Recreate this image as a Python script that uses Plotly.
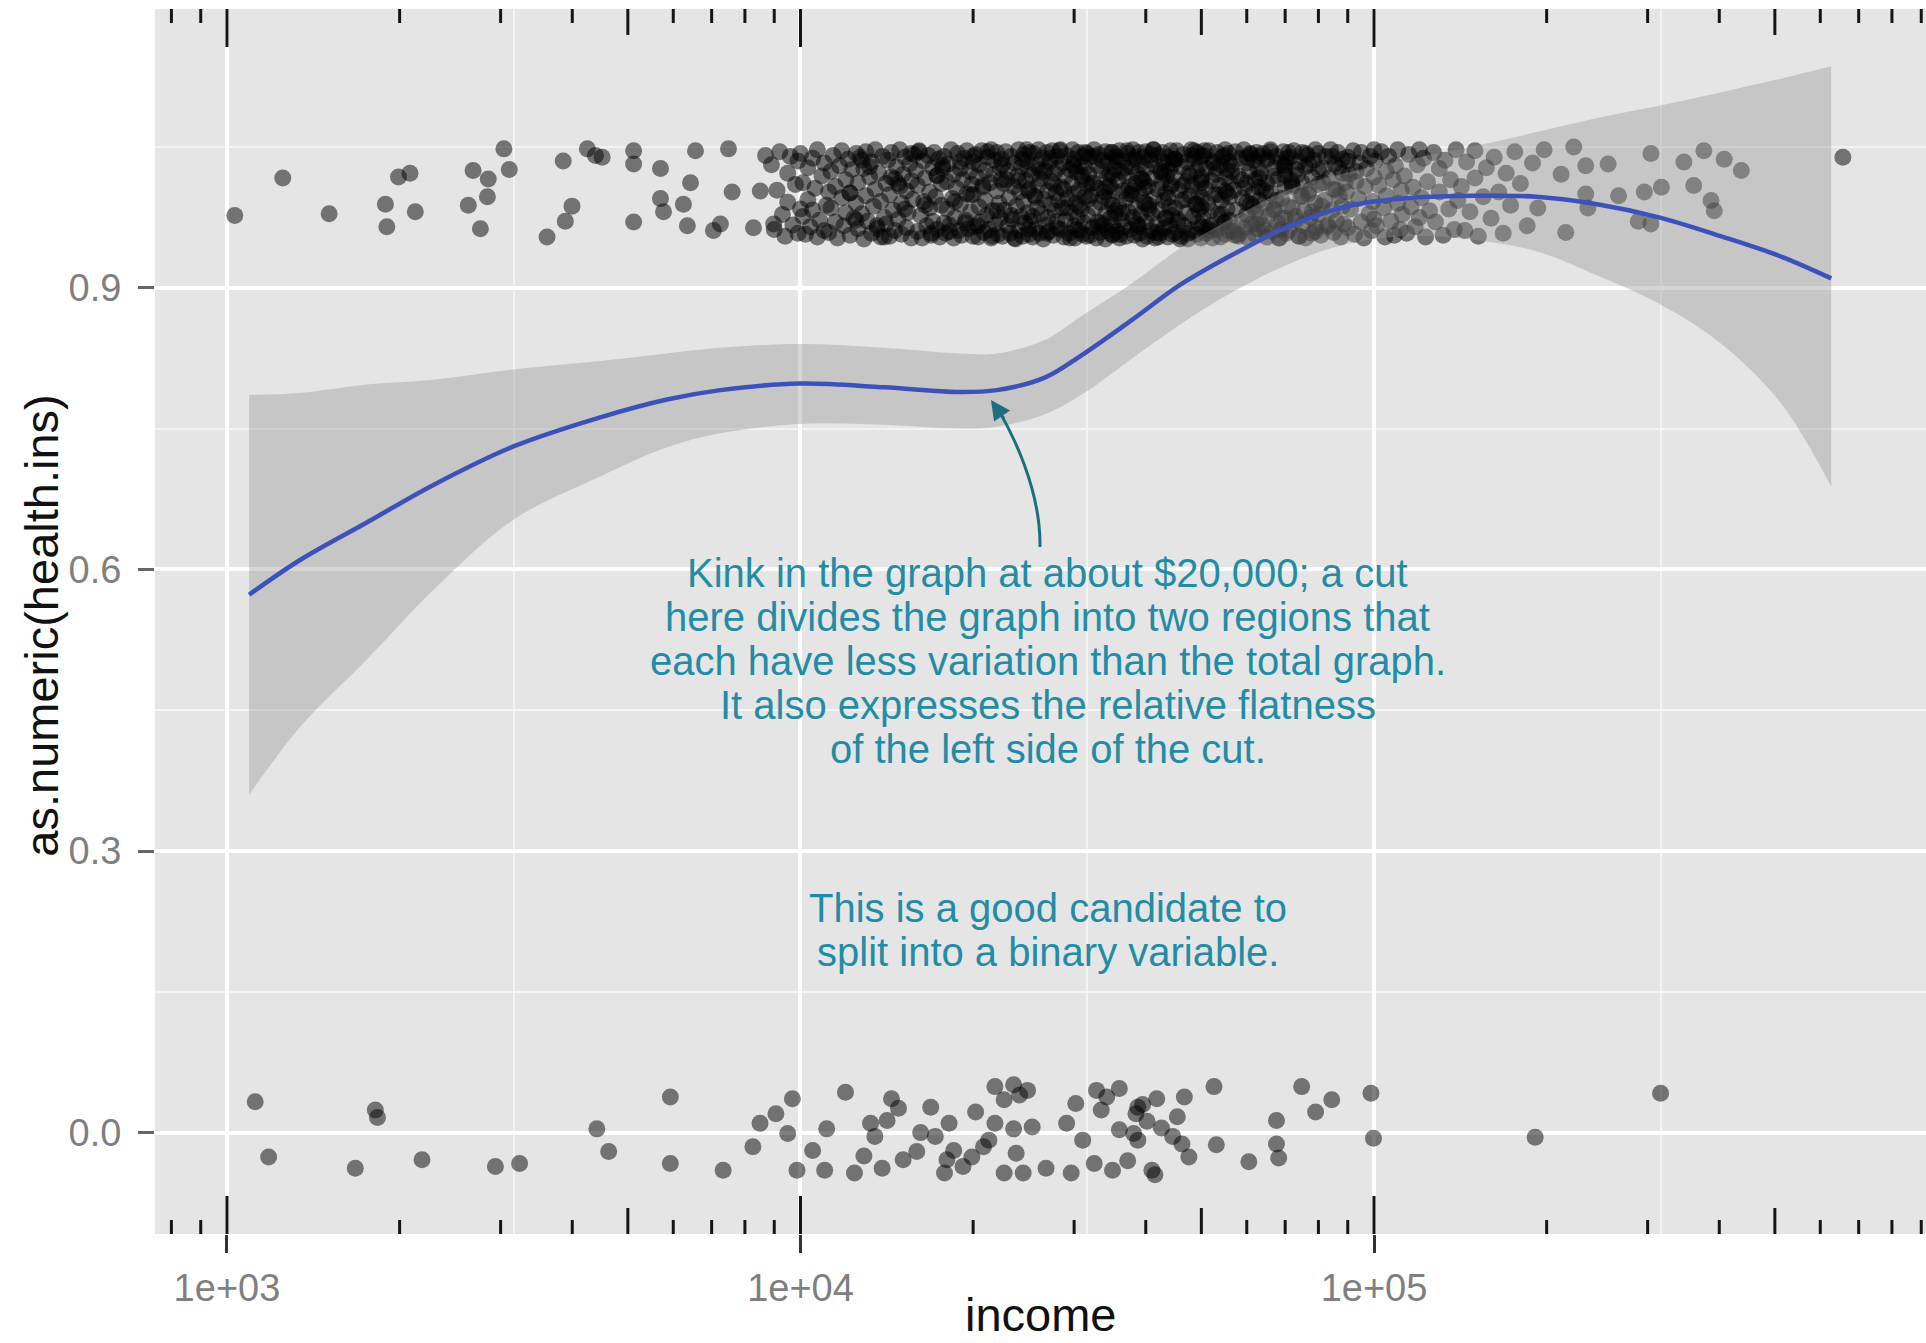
import plotly.graph_objects as go

FONT = "Liberation Sans, Arial, Helvetica, sans-serif"

# ---------------- data ----------------
# health.ins == TRUE, jittered around 1 : sparse low-income points
ins_low_income = [1032, 1251, 1507, 1889, 1900, 1991, 2085, 2130, 2635, 2686, 2766, 2845, 2855,
                  3040, 3106, 3615, 3857, 3890, 3996, 4250, 4390, 4510, 5118, 5118, 5118, 5700,
                  5700, 5770, 6250, 6350, 6430, 6560, 7050, 7250, 7490, 7600, 8280, 8510, 8690, 8980]
ins_low_y = [0.977, 1.017, 0.979, 0.989, 0.965, 1.018, 1.022, 0.981, 0.988, 1.025, 0.963, 0.997, 1.016,
             1.048, 1.026, 0.954, 1.035, 0.971, 0.987, 1.048, 1.041, 1.039, 1.046, 1.032, 0.970, 1.027,
             0.995, 0.981, 0.989, 0.966, 1.012, 1.046, 0.961, 0.968, 1.048, 1.002, 0.964, 1.003, 1.041, 0.968]

# health.ins == TRUE : dense band, income in $1000s, jittered y in thousandths
ins_mid_income_k = [
    8.9, 9.0, 9.1, 9.2, 9.3, 9.4, 9.5, 9.5, 9.6, 9.7, 9.8, 9.9, 9.9, 10.0,
    10.0, 10.1, 10.1, 10.2, 10.3, 10.3, 10.4, 10.5, 10.5, 10.6, 10.7, 10.7, 10.8, 10.9, 11.0, 11.0, 11.1, 11.2,
    11.2, 11.3, 11.3, 11.4, 11.5, 11.5, 11.6, 11.7, 11.8, 11.8, 11.9, 12.0, 12.0, 12.1, 12.2, 12.2, 12.3, 12.4, 12.5, 12.5,
    12.6, 12.6, 12.7, 12.8, 12.9, 12.9, 13.0, 13.0, 13.1, 13.2, 13.3, 13.3, 13.4, 13.5, 13.5, 13.6, 13.7, 13.8, 13.8, 13.9, 14.0, 14.1,
    14.1, 14.2, 14.3, 14.3, 14.4, 14.5, 14.6, 14.6, 14.7, 14.8, 14.9, 14.9, 15.0, 15.0, 15.1, 15.2, 15.3, 15.3, 15.4, 15.5, 15.6, 15.6, 15.7, 15.8,
    15.9, 16.0, 16.0, 16.1, 16.2, 16.3, 16.4, 16.4, 16.5, 16.6, 16.7, 16.8, 16.8, 16.9, 17.0, 17.0, 17.1, 17.2, 17.3, 17.3, 17.4, 17.5, 17.6, 17.6, 17.7, 17.8,
    17.8, 17.9, 18.0, 18.0, 18.1, 18.2, 18.3, 18.4, 18.5, 18.5, 18.6, 18.7, 18.8, 18.9, 19.0, 19.0, 19.1, 19.2, 19.3, 19.4, 19.5, 19.5, 19.6, 19.7, 19.8, 19.9, 20.0, 20.0,
    20.0, 20.1, 20.2, 20.3, 20.4, 20.5, 20.5, 20.6, 20.7, 20.8, 20.9, 21.0, 21.0, 21.1, 21.2, 21.3, 21.4, 21.5, 21.5, 21.6, 21.7, 21.8, 21.9, 22.0, 22.0, 22.1, 22.2, 22.3, 22.3, 22.4,
    22.4, 22.5, 22.6, 22.7, 22.8, 23.0, 23.0, 23.1, 23.2, 23.3, 23.4, 23.5, 23.6, 23.7, 23.8, 23.9, 24.0, 24.0, 24.1, 24.2, 24.3, 24.4, 24.5, 24.5, 24.6, 24.7, 24.8, 24.9, 25.0, 25.0, 25.0, 25.1,
    25.2, 25.3, 25.4, 25.5, 25.6, 25.7, 25.8, 25.9, 26.0, 26.0, 26.1, 26.2, 26.3, 26.4, 26.5, 26.6, 26.7, 26.8, 26.9, 27.0, 27.0, 27.1, 27.2, 27.3, 27.4, 27.5, 27.6, 27.7, 27.8, 27.9, 28.0, 28.0, 28.1, 28.2,
    28.3, 28.4, 28.5, 28.6, 28.7, 28.8, 29.0, 29.0, 29.1, 29.2, 29.4, 29.5, 29.6, 29.7, 29.8, 30.0, 30.0, 30.0, 30.1, 30.2, 30.3, 30.4, 30.5, 30.6, 30.7, 30.8, 30.9, 31.0, 31.0, 31.1, 31.2, 31.3, 31.4, 31.5, 31.6, 31.6,
    31.7, 31.8, 32.0, 32.0, 32.1, 32.3, 32.4, 32.5, 32.6, 32.8, 32.9, 33.0, 33.0, 33.1, 33.3, 33.4, 33.5, 33.6, 33.7, 33.9, 34.0, 34.0, 34.1, 34.2, 34.3, 34.4, 34.5, 34.6, 34.7, 34.8, 34.9, 35.0, 35.0, 35.0, 35.1, 35.2, 35.3, 35.4,
    35.5, 35.6, 35.8, 35.9, 36.0, 36.0, 36.2, 36.3, 36.5, 36.6, 36.7, 36.9, 37.0, 37.0, 37.2, 37.3, 37.4, 37.6, 37.7, 37.8, 38.0, 38.0, 38.1, 38.2, 38.4, 38.5, 38.6, 38.7, 38.9, 39.0, 39.0, 39.1, 39.2, 39.4, 39.5, 39.6, 39.7, 39.8,
    40.0, 40.0, 40.0, 40.2, 40.3, 40.5, 40.7, 40.8, 41.0, 41.0, 41.2, 41.4, 41.5, 41.6, 41.8, 42.0, 42.0, 42.1, 42.3, 42.5, 42.6, 42.8, 43.0, 43.0, 43.1, 43.3, 43.4, 43.5, 43.7, 43.8, 44.0, 44.0, 44.1, 44.2, 44.3, 44.4, 44.5, 44.6,
    44.8, 45.0, 45.0, 45.0, 45.3, 45.5, 45.7, 46.0, 46.0, 46.2, 46.5, 46.7, 47.0, 47.0, 47.2, 47.4, 47.6, 47.8, 48.0, 48.0, 48.2, 48.4, 48.6, 48.8, 49.0, 49.0, 49.2, 49.4, 49.5, 49.7, 49.9, 50.0, 50.0, 50.0, 50.0, 50.1,
    50.3, 50.5, 50.8, 51.0, 51.0, 51.3, 51.5, 51.8, 52.0, 52.0, 52.3, 52.5, 52.8, 53.0, 53.0, 53.3, 53.5, 53.8, 54.0, 54.0, 54.2, 54.5, 54.7, 55.0, 55.0, 55.0, 55.2, 55.4, 55.5, 55.7, 55.8, 56.0, 56.0, 56.2,
    56.4, 56.8, 57.0, 57.3, 57.6, 58.0, 58.0, 58.4, 58.8, 59.0, 59.3, 59.6, 60.0, 60.0, 60.0, 60.3, 60.6, 60.9, 61.0, 61.2, 61.5, 61.8, 62.0, 62.0, 62.2, 62.4, 62.6, 62.8, 63.0, 63.0, 63.0, 63.1,
    63.5, 64.0, 64.0, 64.5, 65.0, 65.0, 65.0, 65.5, 66.0, 66.0, 66.5, 67.0, 67.0, 67.5, 68.0, 68.0, 68.5, 69.0, 69.0, 69.5, 70.0, 70.0, 70.0, 70.3, 70.5, 70.7, 64.8, 66.8, 68.8, 69.8,
    71.0, 71.5, 72.0, 72.0, 72.5, 73.0, 73.5, 74.0, 74.0, 74.5, 75.0, 75.0, 75.0, 75.5, 76.0, 76.0, 76.5, 77.0, 77.5, 78.0, 78.0, 78.5, 79.0, 79.0, 79.3, 73.2, 76.8, 71.8,
    80.0, 80.0, 80.0, 80.8, 81.5, 82.0, 82.5, 83.0, 83.5, 84.0, 84.5, 85.0, 85.0, 85.5, 86.0, 86.5, 87.0, 87.5, 88.0, 88.0, 88.5, 89.0, 81.0, 86.8,
    89.5, 90.0, 90.0, 90.5, 91.0, 92.0, 92.5, 93.0, 94.0, 94.5, 95.0, 95.0, 96.0, 96.5, 97.0, 98.0, 98.5, 99.0, 99.5, 100.0, 100.0, 100.0,
    100.5, 101, 102, 103, 104, 104.5, 105, 105, 106, 107, 108, 108.5, 109, 110, 110, 111, 111.5, 112,
    113, 114, 115, 116, 117, 118, 119, 120, 120, 121, 122, 123, 124, 125,
    127, 128, 130, 130, 132, 133, 135, 136, 138, 139, 140,
    142, 144, 145, 147, 150, 150, 152, 155, 157,
    160, 162, 165, 168, 170, 173, 176,
    180, 185, 189, 193, 198,
]
ins_mid_y_milli = [
    1031, 962, 1004, 1045, 978, 955, 1022, 991, 1040, 967, 1010, 958, 1035, 984,
    1043, 976, 1012, 957, 1028, 994, 965, 1038, 983, 1006, 954, 1047, 972, 1019, 961, 1033, 988, 1002,
    959, 1024, 985, 1041, 970, 1008, 953, 1030, 996, 1046, 966, 1015, 980, 1037, 956, 1001, 1026, 974, 1043, 990,
    1012, 963, 1039, 979, 1027, 952, 998, 1045, 971, 1018, 958, 1034, 987, 1005, 1047, 966, 1022, 954, 992, 1040, 975, 1011,
    968, 1036, 999, 955, 1044, 983, 1016, 961, 1029, 973, 1008, 1047, 957, 990, 1021, 1039, 964, 1003, 980, 1032, 953, 1014, 994, 1042,
    1025, 960, 1009, 1046, 977, 953, 1035, 992, 1017, 966, 1041, 985, 1002, 956, 1028, 971, 1044, 997, 962, 1019, 1037, 954, 988, 1011, 1030, 969,
    1040, 958, 1013, 984, 1032, 967, 1047, 995, 953, 1021, 975, 1006, 1043, 961, 989, 1027, 956, 1015, 1038, 972, 1000, 1046, 963, 1024, 981, 1010, 955, 1034,
    999, 965, 1042, 1018, 954, 986, 1031, 970, 1046, 1007, 959, 993, 1025, 977, 1039, 962, 1012, 1047, 953, 982, 1021, 1036, 968, 1003, 1044, 957, 990, 1028, 974, 1015,
    1037, 955, 1011, 983, 1045, 966, 1024, 996, 958, 1040, 973, 1008, 1033, 952, 987, 1019, 1047, 961, 1002, 976, 1029, 955, 1042, 992, 969, 1014, 1035, 980, 957, 1005, 1026, 1044,
    971, 1020, 954, 1043, 998, 963, 1031, 985, 1009, 1047, 958, 1016, 979, 1038, 952, 994, 1025, 967, 1044, 1003, 975, 960, 1034, 989, 1013, 1046, 956, 1022, 982, 1001, 1040, 964, 1027, 993,
    1046, 962, 1007, 985, 1033, 954, 1019, 972, 1041, 995, 958, 1026, 980, 1011, 1047, 966, 1000, 1037, 953, 990, 1023, 975, 1044, 1004, 961, 1030, 984, 1015, 957, 1040, 969, 997, 1028, 955, 1010, 1043,
    977, 1021, 956, 1039, 998, 964, 1012, 1047, 985, 953, 1030, 970, 1006, 1042, 959, 991, 1025, 1036, 967, 1002, 952, 1045, 980, 1017, 961, 1033, 994, 1009, 974, 1044, 957, 988, 1020, 1038, 966, 1003, 1027, 982,
    1040, 960, 1014, 987, 1046, 953, 1024, 972, 1003, 1035, 965, 994, 1019, 955, 1043, 981, 1008, 962, 1029, 999, 1047, 975, 1037, 956, 1011, 985, 1022, 967, 1044, 1000, 958, 1031, 978, 1016, 952, 1039, 991, 1006,
    970, 1027, 1045, 955, 1008, 988, 1036, 961, 1017, 979, 1047, 996, 953, 1030, 968, 1005, 1041, 983, 958, 1023, 1012, 1044, 963, 993, 1034, 974, 1001, 1019, 954, 1039, 986, 1026, 966, 1046, 1010, 977, 957, 1032,
    1018, 959, 1037, 985, 1046, 971, 1004, 955, 1029, 993, 1042, 966, 1013, 980, 1034, 952, 1022, 998, 1047, 962, 1009, 976, 1038, 989, 957, 1025, 1044, 969, 1002, 1031, 953, 986, 1015, 1040, 965, 996,
    975, 1041, 1006, 958, 1027, 990, 1046, 966, 1014, 982, 953, 1035, 999, 1021, 962, 1044, 978, 1009, 954, 1031, 993, 1039, 969, 1003, 1047, 957, 1017, 984, 1026, 961, 1043, 997, 972, 1012,
    1030, 960, 1004, 1045, 983, 1019, 955, 1038, 971, 995, 1047, 964, 1011, 1033, 978, 953, 1024, 989, 1042, 968, 1000, 1036, 957, 1015, 981, 1044, 963, 1027, 993, 1007, 1040, 974,
    1022, 966, 1043, 990, 954, 1012, 1036, 977, 1047, 1001, 960, 1028, 984, 1040, 969, 1016, 953, 1033, 995, 1045, 974, 1008, 1025, 958, 1038, 987, 1003, 1019, 962, 1031,
    961, 1039, 1008, 985, 1046, 972, 1020, 955, 1034, 997, 1044, 967, 1012, 982, 1029, 953, 1041, 1003, 975, 1018, 958, 1036, 990, 1047, 964, 1026, 1000, 1014,
    1043, 978, 1010, 956, 1027, 993, 1040, 965, 1017, 1047, 983, 1005, 959, 1032, 971, 1044, 998, 954, 1022, 1037, 968, 1012, 987, 1028,
    1002, 1039, 964, 1021, 984, 1046, 957, 1013, 995, 1033, 970, 1044, 953, 1008, 1027, 979, 1040, 961, 992, 1018, 1047, 973,
    1035, 966, 1009, 1045, 985, 954, 1024, 998, 1040, 971, 1015, 956, 1030, 990, 1047, 962, 1004, 978,
    1019, 958, 1042, 986, 1007, 965, 1031, 1047, 975, 996, 1038, 954, 1013, 982,
    1044, 970, 1002, 1027, 956, 1036, 984, 1015, 962, 1047, 993,
    1008, 961, 1034, 981, 1046, 1017, 955, 997, 1028,
    974, 1039, 1002, 958, 1022, 988, 1045,
    1011, 966, 1033, 985, 1047,
]
# further overlapping points inside the darkest part of the band ($1000s, thousandths)
ins_core_income_k = [
    12.2, 12.8, 13.6, 14.4, 15.2, 16.1, 16.9, 17.7, 18.6, 19.4, 20.0, 20.8, 21.6, 22.5, 23.3, 24.0, 24.8, 25.0, 25.7, 26.5,
    27.3, 28.0, 28.8, 29.5, 30.0, 30.6, 31.4, 32.2, 33.0, 33.8, 34.6, 35.0, 35.7, 36.4, 37.1, 37.9, 38.6, 39.3, 40.0, 40.9,
    41.7, 42.5, 43.4, 44.2, 45.0, 45.9, 46.8, 47.7, 48.6, 49.5, 50.0, 51.2, 52.4, 53.6, 54.8, 55.0, 56.5, 58.0, 59.5, 60.0,
    61.5, 63.0, 64.5, 66.0, 67.5, 69.0, 70.0, 72.0, 74.0, 76.0, 78.0, 80.0, 83.0, 86.0, 90.0,
    12.5, 13.2, 14.0, 14.8, 15.6, 16.5, 17.3, 18.2, 19.0, 19.8, 20.4, 21.2, 22.0, 22.9, 23.6, 24.4, 25.0, 25.4, 26.1, 26.9,
    27.7, 28.4, 29.1, 29.9, 30.3, 31.0, 31.8, 32.6, 33.4, 34.2, 35.0, 35.3, 36.0, 36.8, 37.5, 38.3, 39.0, 39.7, 40.5, 41.3,
    42.1, 43.0, 43.8, 44.6, 45.5, 46.4, 47.3, 48.2, 49.1, 50.0, 50.6, 51.8, 53.0, 54.2, 55.5, 56.0, 57.2, 58.8, 60.0, 60.8,
    62.2, 63.8, 65.2, 66.8, 68.2, 70.0, 71.0, 73.0, 75.0, 77.0, 79.0, 81.5, 84.5, 88.0, 93.0,
]
ins_core_y_milli = [
    1001, 1036, 963, 1018, 984, 1045, 958, 1027, 992, 969, 1040, 1009, 955, 1031, 977, 1014, 1047, 962, 996, 1023,
    1038, 971, 1005, 953, 1029, 987, 1044, 1011, 965, 997, 1021, 956, 1035, 980, 1046, 1003, 968, 1016, 990, 1042,
    959, 1025, 975, 1008, 1037, 952, 994, 1019, 1046, 983, 1012, 964, 1033, 999, 1041, 970, 1024, 957, 1006, 1039,
    986, 1017, 961, 1045, 993, 974, 1030, 1010, 955, 1043, 981, 1026, 967, 1004, 1035,
    972, 1029, 954, 1011, 1043, 988, 1020, 960, 1034, 999, 966, 1045, 982, 1015, 953, 1037, 1003, 976, 1026, 958,
    1010, 1047, 985, 1032, 962, 1019, 994, 1040, 969, 1007, 1044, 979, 957, 1028, 1000, 1039, 965, 1013, 984, 1047,
    954, 1022, 996, 1036, 973, 1009, 958, 1041, 989, 1018, 1046, 961, 1027, 978, 1001, 1034, 956, 1015, 991, 1043,
    968, 1006, 1038, 983, 953, 1020, 1044, 976, 998, 1031, 960, 1012, 1040, 987, 1024,
]

# health.ins == TRUE : sparse high-income points
ins_high_income = [212000, 216000, 223000, 234000, 234000, 236000, 256000, 267000, 289000, 296000, 304000,
                   304000, 317000, 347000, 361000, 376000, 387000, 392000, 408000, 437000, 657000]
ins_high_y = [1.021, 0.959, 1.050, 1.030, 1.000, 0.985, 1.032, 0.998, 0.971, 1.002, 1.043,
              0.968, 1.007, 1.034, 1.009, 1.046, 0.993, 0.982, 1.037, 1.025, 1.039]

# health.ins == FALSE, jittered around 0
unins_income = [1120, 1182, 1674, 1814, 1830, 2188, 2938, 3238, 4415, 4630, 5930, 5930, 7330, 8260, 8500,
                9060, 9500, 9680, 9860, 10500, 11110, 11020, 11980, 12420, 12900, 13250, 13480, 13880, 14410,
                14820, 14160, 15100, 15950, 16200, 16870, 17180, 17830, 18160, 18500, 18000, 19200, 19900,
                20200, 20850, 21300, 21830, 23530, 24880, 22650, 21830, 23530, 25350, 23770, 22650, 24450,
                24100, 26800, 29650, 29110, 30200, 31050, 32830, 32520, 33450, 34200, 35000, 35970, 35970,
                37200, 38740, 38450, 39500, 40200, 41800, 41000, 41500, 38100, 38740, 42600, 45400, 44560,
                46700, 46250, 47560, 52600, 53100, 60500, 67600, 67600, 68200, 74800, 79100, 84400, 98800,
                99800, 191000, 316000]
unins_y = [0.033, -0.026, -0.038, 0.024, 0.016, -0.029, -0.036, -0.033, 0.004, -0.020, 0.038, -0.033, -0.040,
           -0.015, 0.010, 0.020, -0.001, 0.036, -0.040, -0.019, 0.004, -0.040, 0.043, -0.043, -0.025, 0.010,
           -0.004, -0.038, 0.036, 0.026, 0.013, -0.029, -0.020, 0.000, 0.027, -0.004, -0.043, 0.010, -0.019,
           -0.029, -0.036, -0.026, 0.022, -0.015, -0.008, 0.049, 0.051, 0.045, 0.035, 0.010, 0.004, 0.006,
           -0.022, -0.043, -0.043, 0.040, -0.038, -0.043, 0.010, 0.031, -0.008, 0.045, -0.033, 0.024, 0.038,
           -0.040, 0.047, 0.003, -0.030, 0.027, 0.020, 0.030, 0.012, 0.036, -0.040, -0.045, -0.001, -0.008,
           0.005, 0.017, -0.004, 0.038, -0.012, -0.026, 0.049, -0.013, -0.031, 0.013, -0.012, -0.027, 0.049,
           0.022, 0.035, 0.042, -0.006, -0.005, 0.042]

# loess smooth and its confidence band
smooth_income = [1093, 1341, 1753, 2291, 3160, 4477, 5852, 7250, 10000, 14000, 18850, 22000, 26600, 30900,
                 37700, 45900, 55800, 71400, 91400, 117000, 150000, 192000, 245000, 314000, 402000, 514000, 627000]
smooth_fit = [0.573, 0.610, 0.650, 0.690, 0.731, 0.762, 0.781, 0.791, 0.798, 0.794, 0.789, 0.791, 0.804, 0.828,
              0.865, 0.903, 0.933, 0.966, 0.988, 0.996, 0.998, 0.997, 0.989, 0.975, 0.955, 0.933, 0.910]
smooth_lo = [0.360, 0.432, 0.504, 0.578, 0.653, 0.699, 0.730, 0.745, 0.755, 0.754, 0.750, 0.752, 0.765, 0.786,
             0.824, 0.861, 0.893, 0.926, 0.948, 0.955, 0.951, 0.939, 0.913, 0.883, 0.841, 0.776, 0.688]
smooth_hi = [0.786, 0.788, 0.797, 0.802, 0.813, 0.822, 0.830, 0.836, 0.840, 0.836, 0.830, 0.830, 0.844, 0.870,
             0.904, 0.942, 0.972, 1.005, 1.024, 1.038, 1.051, 1.066, 1.081, 1.094, 1.108, 1.123, 1.136]

x_tick_vals = [1e3, 1e4, 1e5]
x_tick_text = ["1e+03", "1e+04", "1e+05"]
y_tick_vals = [0.0, 0.3, 0.6, 0.9]
y_tick_text = ["0.0", "0.3", "0.6", "0.9"]

note_lines = ["Kink in the graph at about $20,000; a cut",
              "here divides the graph into two regions that",
              "each have less variation than the total graph.",
              "It also expresses the relative flatness",
              "of the left side of the cut."]
note2_lines = ["This is a good candidate to", "split into a binary variable."]

# ---------------- figure ----------------
X_RANGE = [2.8745, 5.9625]
Y_RANGE = [-0.108, 1.197]
PT = dict(size=17, color="rgba(0,0,0,0.5)", line=dict(width=0))


def pairs(xs_k, ys_m):
    n = min(len(xs_k), len(ys_m))
    return [v * 1000 for v in xs_k[:n]], [v / 1000 for v in ys_m[:n]]


mid_x, mid_y = pairs(ins_mid_income_k, ins_mid_y_milli)
core_x, core_y = pairs(ins_core_income_k, ins_core_y_milli)

fig = go.Figure()
fig.add_trace(go.Scatter(x=ins_low_income + mid_x + core_x + ins_high_income,
                         y=ins_low_y + mid_y + core_y + ins_high_y,
                         mode="markers", marker=PT, hoverinfo="skip", showlegend=False))
fig.add_trace(go.Scatter(x=unins_income, y=unins_y, mode="markers", marker=PT,
                         hoverinfo="skip", showlegend=False))
# confidence ribbon
fig.add_trace(go.Scatter(x=smooth_income, y=smooth_lo, mode="lines", line=dict(width=0, shape="spline"),
                         hoverinfo="skip", showlegend=False))
fig.add_trace(go.Scatter(x=smooth_income, y=smooth_hi, mode="lines", line=dict(width=0, shape="spline"),
                         fill="tonexty", fillcolor="rgba(153,153,153,0.4)", hoverinfo="skip", showlegend=False))
# fitted line
fig.add_trace(go.Scatter(x=smooth_income, y=smooth_fit, mode="lines",
                         line=dict(color="rgb(60,82,185)", width=4.5, shape="spline"),
                         hoverinfo="skip", showlegend=False))

# log ticks (annotation_logticks, top and bottom) drawn on an overlay axis 0..1
lo_v, hi_v = 10 ** X_RANGE[0], 10 ** X_RANGE[1]
log_ticks = [(m, m * 10 ** k) for k in range(2, 7) for m in range(1, 10) if lo_v <= m * 10 ** k <= hi_v]
PANEL_H = 1225.0
for mults, length in (((1,), 38), ((5,), 26), ((2, 3, 4, 6, 7, 8, 9), 14)):
    L = length / PANEL_H
    xs, ys = [], []
    for m, v in log_ticks:
        if m in mults:
            xs += [v, v, None, v, v, None]
            ys += [0, L, None, 1, 1 - L, None]
    fig.add_trace(go.Scatter(x=xs, y=ys, yaxis="y2", mode="lines",
                             line=dict(color="#151515", width=3), hoverinfo="skip", showlegend=False))

fig.update_layout(
    width=1926, height=1343,
    margin=dict(l=155, r=0, t=9, b=109, autoexpand=False),
    paper_bgcolor="white", plot_bgcolor="#E5E5E5",
    font=dict(family=FONT),
    xaxis=dict(type="log", range=X_RANGE, tickmode="array", tickvals=x_tick_vals, ticktext=x_tick_text,
               automargin=False,
               ticks="outside", ticklen=18, tickwidth=3, tickcolor="#333333",
               tickfont=dict(size=38, color="#7F7F7F"), ticklabelstandoff=2,
               showgrid=True, gridcolor="white", gridwidth=3.5, zeroline=False, showline=False,
               minor=dict(tickmode="array", tickvals=[10 ** 3.5, 10 ** 4.5, 10 ** 5.5], ticks="",
                          showgrid=True, gridcolor="#F3F3F3", gridwidth=2)),
    yaxis=dict(range=Y_RANGE, tickmode="array", tickvals=y_tick_vals, ticktext=y_tick_text,
               automargin=False,
               ticks="outside", ticklen=16, tickwidth=3, tickcolor="#666666",
               tickfont=dict(size=38, color="#7F7F7F"), ticklabelstandoff=9,
               showgrid=True, gridcolor="white", gridwidth=3.5, zeroline=False, showline=False,
               minor=dict(tickmode="array", tickvals=[0.15, 0.45, 0.75, 1.05], ticks="",
                          showgrid=True, gridcolor="#F3F3F3", gridwidth=2)),
    yaxis2=dict(overlaying="y", range=[0, 1], visible=False, fixedrange=True, automargin=False),
)

TEAL = "#238CA5"
ann = []
# axis titles
ann.append(dict(xref="paper", yref="paper", x=-0.0641, y=0.497, text="as.numeric(health.ins)",
                textangle=-90, showarrow=False, xanchor="center", yanchor="middle",
                font=dict(size=47, color="#111111", family=FONT)))
ann.append(dict(xref="paper", yref="paper", x=0.5003, y=-0.0880, text="income",
                showarrow=False, xanchor="center", yanchor="bottom", borderpad=0,
                font=dict(size=47, color="#111111", family=FONT)))
for i, line in enumerate(note_lines):
    ann.append(dict(xref="paper", yref="paper", x=0.5042, y=0.5396 - i * 0.0359, text=line,
                    showarrow=False, xanchor="center", yanchor="middle",
                    font=dict(size=40, color=TEAL, family=FONT)))
for i, line in enumerate(note2_lines):
    ann.append(dict(xref="paper", yref="paper", x=0.5042, y=0.2661 - i * 0.0359, text=line,
                    showarrow=False, xanchor="center", yanchor="middle",
                    font=dict(size=40, color=TEAL, family=FONT)))
# arrow head of the curved pointer
ann.append(dict(xref="paper", yref="paper", x=0.4720, y=0.6808, text="", showarrow=True,
                ax=14, ay=20, arrowhead=2, arrowsize=1.3, arrowwidth=3, arrowcolor="#1C6F80"))
fig.update_layout(annotations=ann)

fig.add_shape(type="path", xref="paper", yref="paper",
              path="M 0.4997 0.5608 C 0.5003 0.6073, 0.4839 0.6547, 0.4745 0.6770",
              line=dict(color="#1C6F80", width=3))

fig.write_html("out.html")
